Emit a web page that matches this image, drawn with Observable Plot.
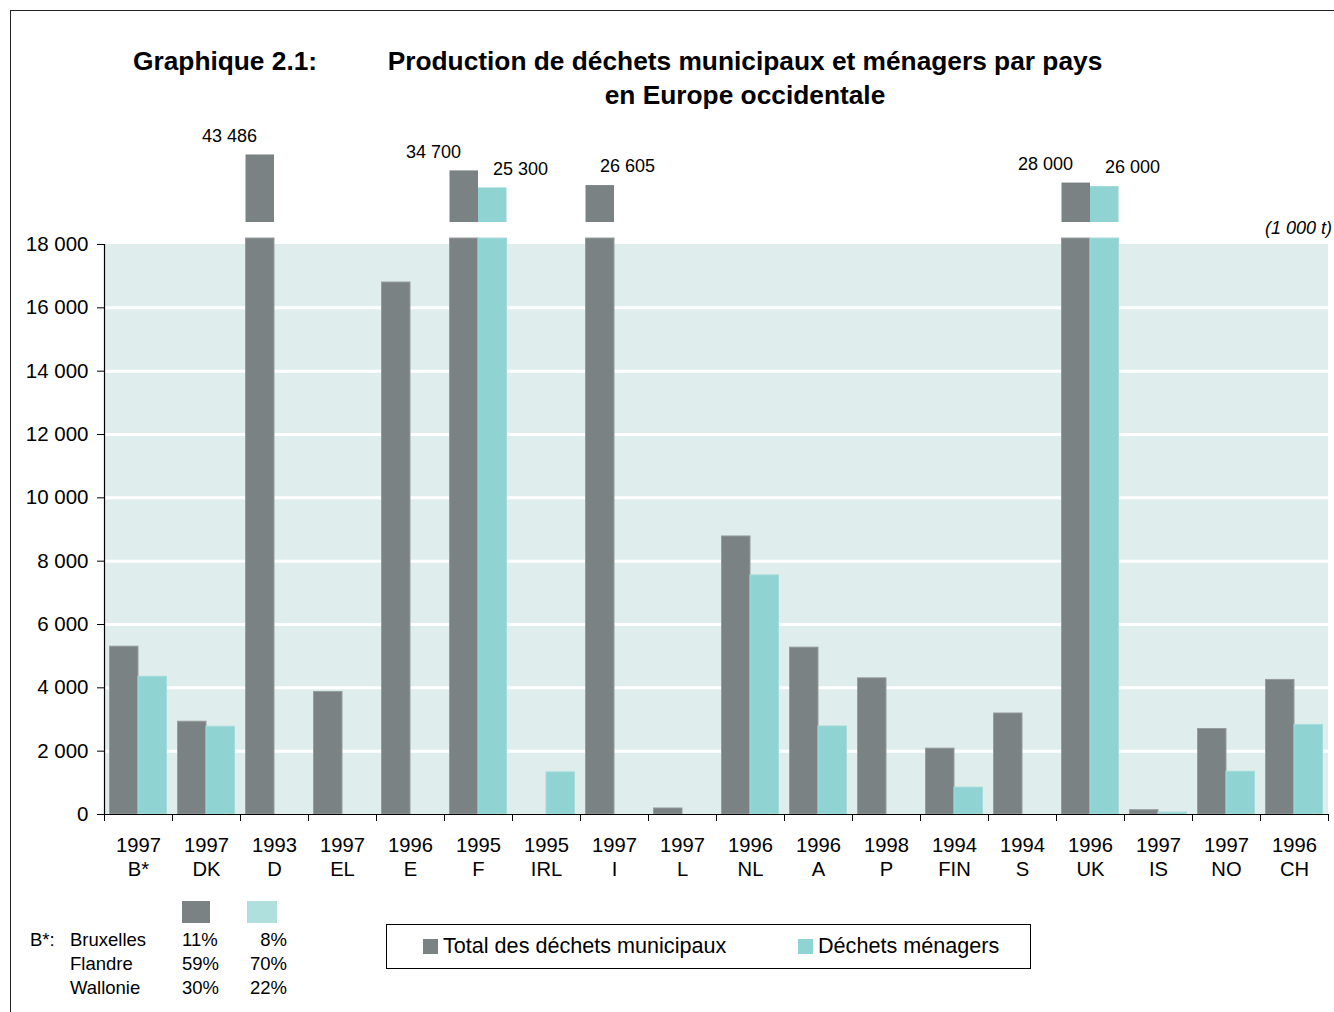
<!DOCTYPE html>
<html>
<head>
<meta charset="utf-8">
<script src="https://cdn.jsdelivr.net/npm/d3@7"></script>
<script src="https://cdn.jsdelivr.net/npm/@observablehq/plot@0.6"></script>
<style>
  body { margin:0; width:1334px; height:1012px; position:relative; overflow:hidden; background:#fff;
         font-family:"Liberation Sans", Arial, sans-serif; color:#000; }
  .abs { position:absolute; }
  #border { left:10px; top:10px; width:1400px; height:1100px; border-left:1.5px solid #222; border-top:1.5px solid #222; }
  #title { left:133px; top:44px; font-weight:bold; font-size:26.3px; line-height:34px; white-space:nowrap; }
  #title2 { left:385px; top:44px; width:720px; text-align:center; font-weight:bold; font-size:26.3px; line-height:34px; white-space:nowrap; }
  #unit { right:2px; top:216px; font-style:italic; font-size:18px; line-height:24px; }
  #chart { left:0; top:120px; }
  #legend { left:386px; top:924px; width:643px; height:43px; border:1px solid #000; font-size:21.6px; }
  .litem { position:absolute; top:-1px; line-height:43px; white-space:nowrap; }
  .lsw { display:inline-block; width:15px; height:15px; margin-right:5px; vertical-align:-1px; }
  #note { left:0; top:0; font-size:18.5px; }
  .ncell { position:absolute; line-height:24px; white-space:nowrap; }
</style>
</head>
<body>
<div id="border" class="abs"></div>
<div id="title" class="abs">Graphique 2.1:</div>
<div id="title2" class="abs">Production de déchets municipaux et ménagers par pays<br>en Europe occidentale</div>
<div id="unit" class="abs">(1 000 t)</div>
<div id="chart" class="abs"></div>
<div id="legend" class="abs"></div>
<div id="note" class="abs"></div>
<script>
// ---------------- data ----------------
const categories = ["B*","DK","D","EL","E","F","IRL","I","L","NL","A","P","FIN","S","UK","IS","NO","CH"];
const years      = ["1997","1997","1993","1997","1996","1995","1995","1997","1997","1996","1996","1998","1994","1994","1996","1997","1997","1996"];
const totalWaste     = [5300, 2930, 43486, 3870, 16800, 34700, null, 26605, 190, 8780, 5270, 4300, 2080, 3190, 28000, 135, 2700, 4250];
const householdWaste = [4350, 2770, null,  null, null,  25300, 1330, null,  null, 7550, 2780, null, 850,  null, 26000, 60,  1350, 2830];
const yTicks = [0, 2000, 4000, 6000, 8000, 10000, 12000, 14000, 16000, 18000];
const seriesNames = ["Total des déchets municipaux", "Déchets ménagers"];
const noteRegions = ["Bruxelles", "Flandre", "Wallonie"];
const noteTotalShare = ["11%", "59%", "30%"];
const noteHouseholdShare = ["8%", "70%", "22%"];

// ---------------- config ----------------
const GRAY = "#7b8283", CYAN = "#8fd3d3", BG = "#dfeeed";
const axisMax = 18000;        // top of the continuous axis
const clipTop = 18136;        // lower part of broken bars
const breakBase = 18500;      // base of the upper (broken) segments
const fmt = v => d3.format(",")(v).replace(/,/g, " ");

const rows = categories.map((c, i) => ({i, cat: c, year: years[i], total: totalWaste[i], home: householdWaste[i]}));
const totRows = rows.filter(d => d.total != null);
const homeRows = rows.filter(d => d.home != null);

const chart = Plot.plot({
  width: 1334,
  height: 770,
  marginLeft: 104,
  marginRight: 6,
  marginTop: 20,
  marginBottom: 76,
  style: {fontFamily: "'Liberation Sans', Arial, sans-serif", fontSize: "20.5px", color: "#000", background: "transparent", overflow: "visible"},
  x: {type: "linear", domain: [0, categories.length], ticks: d3.range(categories.length + 1), tickFormat: () => "", tickSize: 7, label: null},
  y: {type: "linear", domain: [0, axisMax, breakBase, 25000, 45000], range: [694, 124, 102, 68, 31.7],
      ticks: yTicks, tickFormat: fmt, tickSize: 7, tickPadding: 9, label: null},
  marks: [
    Plot.rect([axisMax], {x1: 0, x2: categories.length, y1: 0, y2: d => d, fill: BG}),
    Plot.ruleY(yTicks.filter(t => t > 0 && t < axisMax), {stroke: "#fff", strokeWidth: 3}),
    // lower bars
    Plot.rectY(totRows, {x1: d => d.i, x2: d => d.i + 0.5, y1: 0, y2: d => Math.min(d.total, clipTop),
      fill: GRAY, stroke: "#979c9d", strokeWidth: 1, insetLeft: 5.5}),
    Plot.rectY(homeRows, {x1: d => d.i + 0.5, x2: d => d.i + 1, y1: 0, y2: d => Math.min(d.home, clipTop),
      fill: CYAN, stroke: "#a6dcdb", strokeWidth: 1, insetRight: 5.5}),
    // upper (broken) segments
    Plot.rectY(totRows.filter(d => d.total > axisMax), {x1: d => d.i, x2: d => d.i + 0.5, y1: breakBase, y2: d => d.total,
      fill: GRAY, insetLeft: 5.5}),
    Plot.rectY(homeRows.filter(d => d.home > axisMax), {x1: d => d.i + 0.5, x2: d => d.i + 1, y1: breakBase, y2: d => d.home,
      fill: CYAN, insetRight: 5.5}),
    // value labels of broken bars
    Plot.text(totRows.filter(d => d.total > axisMax && d.cat !== "I"), {x: d => d.i + 0.25, y: d => d.total, text: d => fmt(d.total),
      dy: -19, dx: -28, fontSize: 18}),
    Plot.text(totRows.filter(d => d.total > axisMax && d.cat === "I"), {x: d => d.i + 0.25, y: d => d.total, text: d => fmt(d.total),
      dy: -19, dx: 30, fontSize: 18}),
    Plot.text(homeRows.filter(d => d.home > axisMax), {x: d => d.i + 0.75, y: d => d.home, text: d => fmt(d.home),
      dy: -19, dx: 25, fontSize: 18}),
    // axes lines
    Plot.ruleY([0], {stroke: "#000", strokeWidth: 1.2}),
    Plot.ruleX([0], {y1: 0, y2: axisMax, stroke: "#000", strokeWidth: 1.2}),
    // category labels
    Plot.text(rows, {x: d => d.i + 0.5, y: 0, text: "year", dy: 31, fontSize: 20.2}),
    Plot.text(rows, {x: d => d.i + 0.5, y: 0, text: "cat", dy: 55, fontSize: 20.2})
  ]
});
document.getElementById("chart").appendChild(chart);

// legend
const legend = document.getElementById("legend");
[[seriesNames[0], GRAY, 36], [seriesNames[1], CYAN, 411]].forEach(([name, col, left]) => {
  const it = document.createElement("div");
  it.className = "litem";
  it.style.left = left + "px";
  it.innerHTML = `<span class="lsw" style="background:${col}"></span>${name}`;
  legend.appendChild(it);
});

// B* note
const note = document.getElementById("note");
function cell(text, left, top, align, width) {
  const d = document.createElement("div");
  d.className = "ncell";
  d.textContent = text;
  d.style.top = top + "px";
  if (align === "right") { d.style.left = (left - width) + "px"; d.style.width = width + "px"; d.style.textAlign = "right"; }
  else d.style.left = left + "px";
  note.appendChild(d);
}
const sq1 = document.createElement("div");
sq1.style.cssText = `position:absolute;left:182px;top:901px;width:28px;height:22px;background:${GRAY}`;
const sq2 = document.createElement("div");
sq2.style.cssText = `position:absolute;left:247px;top:901px;width:30px;height:22px;background:#b0e0de`;
note.appendChild(sq1); note.appendChild(sq2);
cell("B*:", 30, 928);
noteRegions.forEach((r, k) => {
  const top = 928 + k * 24;
  cell(r, 70, top);
  cell(noteTotalShare[k], 182, top);
  cell(noteHouseholdShare[k], 287, top, "right", 60);
});
</script>
</body>
</html>
